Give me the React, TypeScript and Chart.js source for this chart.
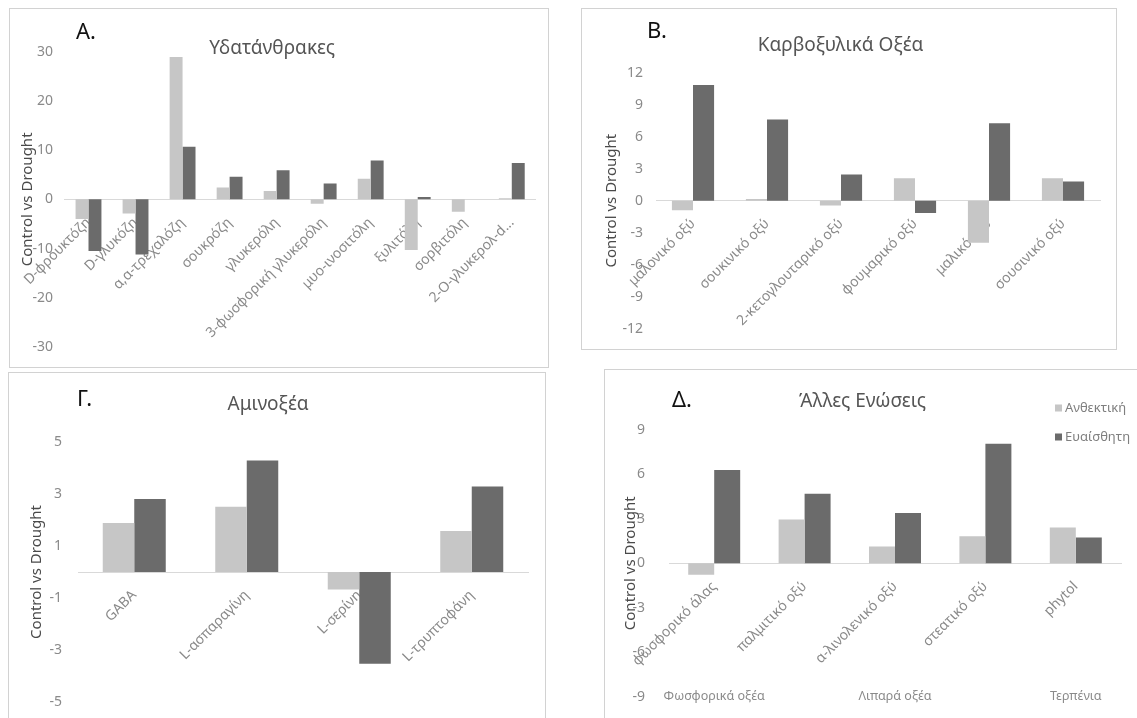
import React, { useEffect, useRef } from 'react';
import { Chart, registerables } from 'chart.js';

Chart.register(...registerables);

const FONT = '"Noto Sans", "DejaVu Sans", sans-serif';
Chart.defaults.font.family = FONT;

// ---------- data ----------
const seriesNames = ['Ανθεκτική', 'Ευαίσθητη'];

const carbLabels = ['D-φρουκτόζη', 'D-γλυκόζη', 'α,α-τρεχαλόζη', 'σουκρόζη', 'γλυκερόλη', '3-φωσφορική γλυκερόλη', 'μυο-ινοσιτόλη', 'ξυλιτόλη', 'σορβιτόλη', '2-O-γλυκερολ-d...'];
const carbResistant = [-4.0, -2.9, 28.9, 2.4, 1.7, -0.9, 4.2, -10.3, -2.5, 0.2];
const carbSensitive = [-10.5, -11.2, 10.7, 4.6, 5.9, 3.2, 7.9, 0.5, 0, 7.4];
const carbTicks = [-30, -20, -10, 0, 10, 20, 30];

const acidLabels = ['μαλονικό οξύ', 'σουκινικό οξύ', '2-κετογλουταρικό οξύ', 'φουμαρικό οξύ', 'μαλικό οξύ', 'σουσινικό οξύ'];
const acidResistant = [-0.9, 0.15, -0.45, 2.1, -3.95, 2.1];
const acidSensitive = [10.85, 7.6, 2.45, -1.15, 7.25, 1.8];
const acidTicks = [-12, -9, -6, -3, 0, 3, 6, 9, 12];

const aminoLabels = ['GABA', 'L-ασπαραγίνη', 'L-σερίνη', 'L-τρυπτοφάνη'];
const aminoResistant = [1.88, 2.51, -0.67, 1.58];
const aminoSensitive = [2.81, 4.29, -3.53, 3.29];
const aminoTicks = [-5, -3, -1, 1, 3, 5];

const otherLabels = ['φωσφορικό άλας', 'παλμιτικό οξύ', 'α-λινολενικό οξύ', 'στεατικό οξύ', 'phytol'];
const otherResistant = [-0.77, 2.96, 1.14, 1.82, 2.41];
const otherSensitive = [6.3, 4.7, 3.4, 8.07, 1.75];
const otherTicks = [-9, -6, -3, 0, 3, 6, 9];
const otherGroups = [
  { text: 'Φωσφορικά οξέα', from: 0, to: 0 },
  { text: 'Λιπαρά οξέα', from: 1, to: 3 },
  { text: 'Τερπένια', from: 4, to: 4 },
];

const yAxisTitle = 'Control vs Drought';

// ---------- styles ----------
const LIGHT = '#c6c6c6';
const DARK = '#6b6b6b';
const TICK_COLOR = '#8a8a8a';
const TITLE_COLOR = '#555555';
const AXIS_TITLE_COLOR = '#4a4a4a';

const annotPlugin = {
  id: 'annot',
  afterDraw(chart: any, _args: any, opts: any) {
    const ctx = chart.ctx;
    ctx.save();
    if (opts.letter) {
      ctx.font = `22px ${FONT}`;
      ctx.fillStyle = '#111111';
      ctx.textAlign = 'left';
      ctx.textBaseline = 'alphabetic';
      ctx.fillText(opts.letter.text, opts.letter.x, opts.letter.y);
    }
    if (opts.legend) {
      const { x, y, gap, box } = opts.legend;
      chart.data.datasets.forEach((ds: any, i: number) => {
        const cy = y + i * gap;
        ctx.fillStyle = ds.backgroundColor;
        ctx.fillRect(x, cy - box / 2, box, box);
        ctx.fillStyle = '#7f7f7f';
        ctx.font = `13px ${FONT}`;
        ctx.textAlign = 'left';
        ctx.textBaseline = 'middle';
        ctx.fillText(ds.label, x + box + 3, cy);
      });
    }
    if (opts.groups) {
      const xs = chart.scales.x;
      const ys = chart.scales.y;
      const gy = ys.getPixelForValue(ys.min);
      ctx.fillStyle = TICK_COLOR;
      ctx.font = `12.5px ${FONT}`;
      ctx.textAlign = 'center';
      ctx.textBaseline = 'middle';
      opts.groups.forEach((g: any) => {
        const cx = (xs.getPixelForValue(g.from) + xs.getPixelForValue(g.to)) / 2;
        ctx.fillText(g.text, cx, gy);
      });
    }
    ctx.restore();
  },
};

type Spec = {
  title: string;
  letter: string;
  labels: string[];
  resistant: number[];
  sensitive: number[];
  ticks: number[];
  frame: { left: number; top: number; width: number; height: number };
  box: { left: number; top: number; width: number; height: number };
  padRight: number;
  padBottom: number;
  axisWidth: number;
  tickPad: number;
  yTitlePad: number;
  titlePad: { top: number; bottom: number };
  catPct: number;
  letterPos: { x: number; y: number };
  legend?: { x: number; y: number; gap: number; box: number };
  groups?: { text: string; from: number; to: number }[];
};

const specs: Spec[] = [
  {
    title: 'Υδατάνθρακες', letter: 'A.',
    labels: carbLabels, resistant: carbResistant, sensitive: carbSensitive, ticks: carbTicks,
    frame: { left: 9, top: 8, width: 540, height: 360 },
    box: { left: 9, top: 8, width: 540, height: 360 },
    padRight: 13.7, padBottom: 21, axisWidth: 51.3, tickPad: 12, yTitlePad: 5,
    titlePad: { top: 29.6, bottom: -8.7 }, catPct: 0.55,
    letterPos: { x: 67, y: 31 },
  },
  {
    title: 'Καρβοξυλικά Οξέα', letter: 'B.',
    labels: acidLabels, resistant: acidResistant, sensitive: acidSensitive, ticks: acidTicks,
    frame: { left: 581, top: 8, width: 536, height: 342 },
    box: { left: 581, top: 8, width: 536, height: 342 },
    padRight: 17, padBottom: 18, axisWidth: 75, tickPad: 13, yTitlePad: 22,
    titlePad: { top: 26.6, bottom: 15.3 }, catPct: 0.57,
    letterPos: { x: 66, y: 30 },
  },
  {
    title: 'Αμινοξέα', letter: 'Γ.',
    labels: aminoLabels, resistant: aminoResistant, sensitive: aminoSensitive, ticks: aminoTicks,
    frame: { left: 8, top: 372, width: 538, height: 400 },
    box: { left: 8, top: 371, width: 538, height: 360 },
    padRight: 18, padBottom: 29, axisWidth: 70, tickPad: 16, yTitlePad: 20,
    titlePad: { top: 22.6, bottom: 25.6 }, catPct: 0.56,
    letterPos: { x: 69, y: 35 },
  },
  {
    title: 'Άλλες Ενώσεις', letter: 'Δ.',
    labels: otherLabels, resistant: otherResistant, sensitive: otherSensitive, ticks: otherTicks,
    frame: { left: 604, top: 369, width: 600, height: 400 },
    box: { left: 604, top: 369, width: 545, height: 360 },
    padRight: 28, padBottom: 26, axisWidth: 65, tickPad: 24, yTitlePad: 18,
    titlePad: { top: 21.6, bottom: 16.6 }, catPct: 0.575,
    letterPos: { x: 68, y: 38 },
    legend: { x: 451, y: 39, gap: 29, box: 7 },
    groups: otherGroups,
  },
];

function buildConfig(s: Spec): any {
  const tickValues = s.ticks;
  return {
    type: 'bar',
    data: {
      labels: s.labels,
      datasets: [
        { label: seriesNames[0], data: s.resistant, backgroundColor: LIGHT, categoryPercentage: s.catPct, barPercentage: 1 },
        { label: seriesNames[1], data: s.sensitive, backgroundColor: DARK, categoryPercentage: s.catPct, barPercentage: 1 },
      ],
    },
    options: {
      responsive: false,
      animation: false,
      devicePixelRatio: 1,
      layout: { padding: { left: 0, top: 0, right: s.padRight, bottom: s.padBottom } },
      plugins: {
        legend: { display: false },
        tooltip: { enabled: false },
        title: {
          display: true,
          text: s.title,
          color: TITLE_COLOR,
          font: { size: 19, weight: 'normal', family: FONT },
          padding: s.titlePad,
        },
        annot: {
          letter: { text: s.letter, x: s.letterPos.x, y: s.letterPos.y },
          legend: s.legend,
          groups: s.groups,
        },
      },
      scales: {
        x: {
          type: 'category',
          position: { y: 0 },
          grid: { display: false, drawTicks: false },
          border: { display: true, color: '#d9d9d9', width: 1 },
          ticks: {
            autoSkip: false,
            maxRotation: 45,
            minRotation: 45,
            padding: 15,
            color: TICK_COLOR,
            font: { size: 14, family: FONT },
          },
        },
        y: {
          type: 'linear',
          min: tickValues[0],
          max: tickValues[tickValues.length - 1],
          grid: { display: false, drawTicks: false },
          border: { display: false },
          afterBuildTicks: (scale: any) => {
            scale.ticks = tickValues.map((v) => ({ value: v }));
          },
          afterFit: (scale: any) => {
            scale.width = s.axisWidth;
          },
          ticks: {
            padding: s.tickPad,
            color: TICK_COLOR,
            font: { size: 14, family: FONT },
          },
          title: {
            display: true,
            text: yAxisTitle,
            color: AXIS_TITLE_COLOR,
            font: { size: 15, family: FONT },
            padding: { top: s.yTitlePad, bottom: 0 },
          },
        },
      },
    },
    plugins: [annotPlugin],
  };
}

function Panel({ spec }: { spec: Spec }) {
  const ref = useRef<HTMLCanvasElement>(null);
  useEffect(() => {
    const chart = new Chart(ref.current as HTMLCanvasElement, buildConfig(spec));
    return () => chart.destroy();
  }, [spec]);
  const f = spec.frame;
  const b = spec.box;
  return (
    <>
      <div
        style={{
          position: 'absolute', left: f.left, top: f.top, width: f.width, height: f.height,
          border: '1px solid #d2d2d2', boxSizing: 'border-box', background: '#ffffff',
        }}
      />
      <canvas
        ref={ref}
        width={b.width}
        height={b.height}
        style={{ position: 'absolute', left: b.left, top: b.top, width: b.width, height: b.height }}
      />
    </>
  );
}

export default function App() {
  return (
    <div
      style={{
        position: 'absolute', left: 0, top: 0, width: 1137, height: 718,
        overflow: 'hidden', background: '#ffffff',
      }}
    >
      {specs.map((s) => (
        <Panel key={s.letter} spec={s} />
      ))}
    </div>
  );
}
